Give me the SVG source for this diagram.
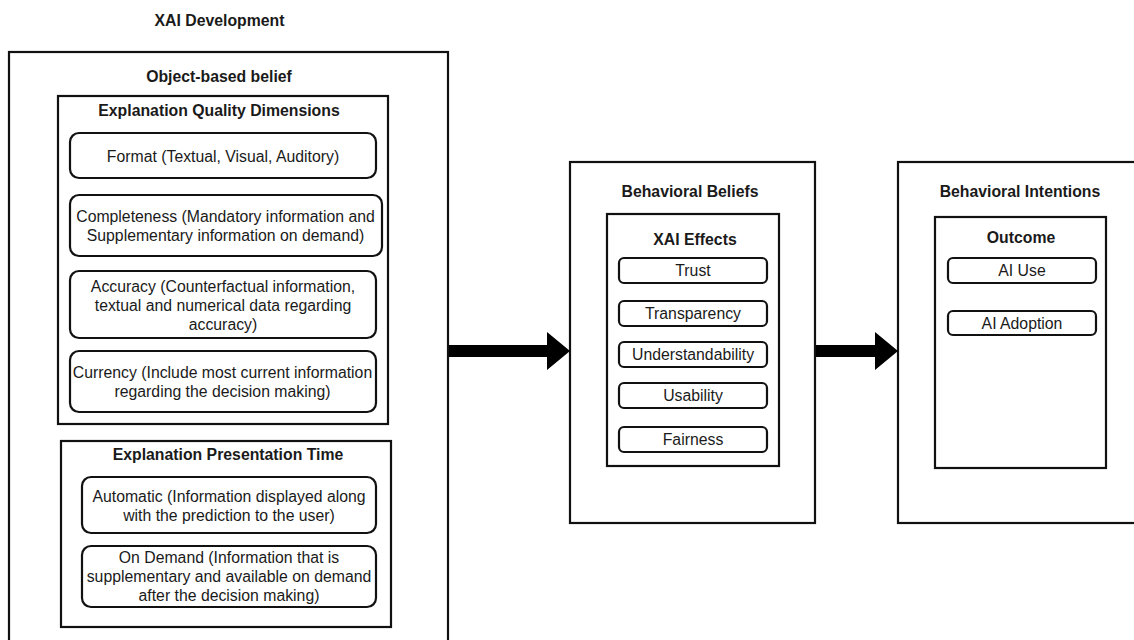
<svg xmlns="http://www.w3.org/2000/svg" width="1134" height="640" viewBox="0 0 1134 640">
<style>
text{font-family:"Liberation Sans",Arial,sans-serif;font-size:15.8px;fill:#1a1a1a;text-anchor:middle}
.b{font-weight:bold}
.box{fill:none;stroke:#111;stroke-width:2.2}
.item{fill:#fff;stroke:#111;stroke-width:2.2}
.arrow{fill:#000}
</style>
<rect width="1134" height="640" fill="#fff"/>
<text class="b" x="219.5" y="25.5">XAI Development</text>
<g id="object-based-belief">
<rect class="box" x="9" y="52" width="439" height="600"/>
<text class="b" x="219" y="81.5">Object-based belief</text>
</g>
<g id="explanation-quality-dimensions">
<rect class="box" x="58" y="96" width="330" height="328"/>
<text class="b" x="219" y="115.5">Explanation Quality Dimensions</text>
</g>
<g id="format">
<rect class="item" x="70" y="133" width="306" height="45" rx="9"/>
<text x="223" y="162">Format (Textual, Visual, Auditory)</text>
</g>
<g id="completeness">
<rect class="item" x="70" y="195" width="312" height="61" rx="9"/>
<text x="225.5" y="221.5">Completeness (Mandatory information and</text>
<text x="225.5" y="240.5">Supplementary information on demand)</text>
</g>
<g id="accuracy">
<rect class="item" x="70" y="271" width="306" height="67" rx="9"/>
<text x="223" y="291.5">Accuracy (Counterfactual information,</text>
<text x="223" y="310.5">textual and numerical data regarding</text>
<text x="223" y="329.5">accuracy)</text>
</g>
<g id="currency">
<rect class="item" x="70" y="351" width="306" height="61" rx="9"/>
<text x="222.5" y="377.5">Currency (Include most current information</text>
<text x="222.5" y="396.5">regarding the decision making)</text>
</g>
<g id="explanation-presentation-time">
<rect class="box" x="61" y="441" width="330" height="186"/>
<text class="b" x="228" y="459.5">Explanation Presentation Time</text>
</g>
<g id="automatic">
<rect class="item" x="82" y="477" width="294" height="56" rx="9"/>
<text x="229" y="501.5">Automatic (Information displayed along</text>
<text x="229" y="520.5">with the prediction to the user)</text>
</g>
<g id="on-demand">
<rect class="item" x="82" y="546" width="294" height="61" rx="9"/>
<text x="229" y="562.5">On Demand (Information that is</text>
<text x="229" y="581.5">supplementary and available on demand</text>
<text x="229" y="600.5">after the decision making)</text>
</g>
<g id="behavioral-beliefs">
<rect class="box" x="570" y="162" width="245" height="361"/>
<text class="b" x="690" y="196.5">Behavioral Beliefs</text>
</g>
<g id="xai-effects">
<rect class="box" x="607" y="214" width="172" height="252"/>
<text class="b" x="695" y="244.5">XAI Effects</text>
</g>
<g id="trust"><rect class="item" x="619" y="258" width="148" height="25" rx="5"/><text x="693" y="276">Trust</text></g>
<g id="transparency"><rect class="item" x="619" y="301" width="148" height="25" rx="5"/><text x="693" y="319">Transparency</text></g>
<g id="understandability"><rect class="item" x="619" y="342" width="148" height="25" rx="5"/><text x="693" y="360">Understandability</text></g>
<g id="usability"><rect class="item" x="619" y="383" width="148" height="25" rx="5"/><text x="693" y="401">Usability</text></g>
<g id="fairness"><rect class="item" x="619" y="427" width="148" height="25" rx="5"/><text x="693" y="445">Fairness</text></g>
<g id="behavioral-intentions">
<rect class="box" x="898" y="162" width="250" height="361"/>
<text class="b" x="1020" y="196.5">Behavioral Intentions</text>
</g>
<g id="outcome">
<rect class="box" x="935" y="217" width="171" height="251"/>
<text class="b" x="1021" y="242.5">Outcome</text>
</g>
<g id="ai-use"><rect class="item" x="948" y="258" width="148" height="25" rx="5"/><text x="1022" y="276">AI Use</text></g>
<g id="ai-adoption"><rect class="item" x="948" y="311" width="148" height="24" rx="5"/><text x="1022" y="328.5">AI Adoption</text></g>
<g id="connectors">
<polygon class="arrow" points="449,345 547,345 547,332 570,351 547,370 547,357 449,357"/>
<polygon class="arrow" points="816,345 875,345 875,332 898,351 875,370 875,357 816,357"/>
</g>
</svg>
